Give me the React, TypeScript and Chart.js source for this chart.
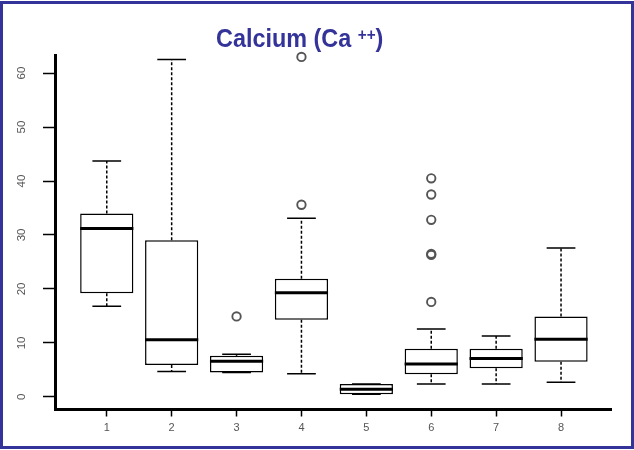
import React, { useEffect, useRef } from 'react';
import { Chart, registerables } from 'chart.js';

Chart.register(...registerables);

// ---- data ----
const categories = ['1', '2', '3', '4', '5', '6', '7', '8'];
const lowerWhisker = [16.8, 4.7, 4.5, 4.3, 0.5, 2.4, 2.4, 2.7];
const q1 = [19.2, 5.9, 4.5, 14.3, 0.5, 4.2, 5.3, 6.5];
const median = [31.2, 10.6, 6.6, 19.3, 1.4, 6.1, 7.1, 10.7];
const q3 = [34.0, 29.0, 7.6, 21.9, 2.4, 8.9, 8.9, 14.9];
const upperWhisker = [43.7, 62.5, 7.9, 33.1, 2.4, 12.6, 11.3, 27.6];
const outlierGroup = [3, 4, 4, 6, 6, 6, 6, 6, 6];
const outlierValue = [14.9, 63.0, 35.6, 40.5, 37.5, 32.8, 26.3, 26.5, 17.6];

const FONT = "'Liberation Sans', Arial, Helvetica, sans-serif";

export default function App() {
  const ref = useRef<HTMLCanvasElement | null>(null);

  useEffect(() => {
    if (!ref.current) return;

    const boxParts = {
      id: 'boxParts',
      afterDatasetsDraw(chart: any) {
        const { ctx } = chart;
        const xs = chart.scales.x;
        const ys = chart.scales.y;
        const bars = chart.getDatasetMeta(0).data;
        ctx.save();
        ctx.strokeStyle = '#000';
        for (let i = 0; i < categories.length; i++) {
          const cx = xs.getPixelForValue(i + 1);
          const bw = bars[i] ? bars[i].width : 50;
          const capHalf = bw * 0.27;
          const yQ1 = ys.getPixelForValue(q1[i]);
          const yQ3 = ys.getPixelForValue(q3[i]);
          const yLo = ys.getPixelForValue(lowerWhisker[i]);
          const yHi = ys.getPixelForValue(upperWhisker[i]);
          // dashed whiskers
          ctx.lineWidth = 1.5;
          ctx.setLineDash([3, 2]);
          ctx.beginPath();
          if (upperWhisker[i] > q3[i]) {
            ctx.moveTo(cx, yQ3);
            ctx.lineTo(cx, yHi);
          }
          if (lowerWhisker[i] < q1[i]) {
            ctx.moveTo(cx, yQ1);
            ctx.lineTo(cx, yLo);
          }
          ctx.stroke();
          // caps
          ctx.setLineDash([]);
          ctx.beginPath();
          ctx.moveTo(cx - capHalf, yHi);
          ctx.lineTo(cx + capHalf, yHi);
          ctx.moveTo(cx - capHalf, yLo);
          ctx.lineTo(cx + capHalf, yLo);
          ctx.stroke();
          // median
          const yM = ys.getPixelForValue(median[i]);
          ctx.lineWidth = 3;
          ctx.beginPath();
          ctx.moveTo(cx - bw / 2, yM);
          ctx.lineTo(cx + bw / 2, yM);
          ctx.stroke();
        }
        ctx.restore();
      },
    };

    const chart = new Chart(ref.current, {
      type: 'bar',
      data: {
        datasets: [
          {
            type: 'bar',
            data: categories.map((_, i) => ({ x: i + 1, y: [q1[i], q3[i]] })) as any,
            backgroundColor: '#fff',
            borderColor: '#000',
            borderWidth: 1.5,
            borderSkipped: false,
            barPercentage: 0.82,
            categoryPercentage: 1,
            order: 2,
          } as any,
          {
            type: 'scatter',
            data: outlierValue.map((v, i) => ({ x: outlierGroup[i], y: v })),
            pointStyle: 'circle',
            pointRadius: 4.2,
            pointBorderWidth: 1.9,
            borderColor: '#555',
            backgroundColor: 'rgba(255,255,255,0)',
            clip: false,
            order: 1,
          } as any,
        ],
      },
      options: {
        responsive: false,
        animation: false,
        events: [],
        layout: { padding: { left: 0, top: 55, right: 23, bottom: 0 } },
        plugins: {
          legend: { display: false },
          tooltip: { enabled: false },
          title: { display: false },
        },
        scales: {
          x: {
            type: 'linear',
            min: 0.21,
            max: 8.77,
            offset: false,
            grid: {
              display: true,
              offset: false,
              drawOnChartArea: false,
              drawTicks: true,
              tickLength: 7,
              tickWidth: 1.5,
              tickColor: '#000',
            },
            border: { display: true, width: 3, color: '#000' },
            ticks: {
              stepSize: 1,
              includeBounds: false,
              autoSkip: false,
              maxRotation: 0,
              minRotation: 0,
              padding: 5,
              color: '#555',
              font: { family: FONT, size: 11 },
              callback: (v: any) => categories[Number(v) - 1] ?? '',
            },
            afterFit: (s: any) => {
              s.height = 40.5;
            },
          } as any,
          y: {
            type: 'linear',
            min: -2.34,
            max: 63.35,
            grid: {
              display: true,
              drawOnChartArea: false,
              drawTicks: true,
              tickLength: 12.5,
              tickWidth: 1.5,
              tickColor: '#000',
            },
            border: { display: true, width: 3, color: '#000' },
            ticks: {
              stepSize: 10,
              includeBounds: false,
              minRotation: 90,
              maxRotation: 90,
              crossAlign: 'center',
              padding: 14.3,
              color: '#555',
              font: { family: FONT, size: 11.5 },
            },
            afterFit: (s: any) => {
              s.width = 55.5;
            },
          } as any,
        },
      },
      plugins: [boxParts],
    });

    return () => chart.destroy();
  }, []);

  return (
    <div style={{ position: 'fixed', left: 0, top: 0, width: 634, height: 450, background: '#fff' }}>
      <canvas ref={ref} width={634} height={450} style={{ display: 'block', width: 634, height: 450 }} />
      <div
        style={{
          position: 'absolute',
          left: 216,
          top: 24.7,
          fontFamily: "'Liberation Sans', Arial, sans-serif",
          fontWeight: 'bold',
          fontSize: 26,
          lineHeight: 1,
          color: '#33339a',
          whiteSpace: 'nowrap',
          transform: 'scaleX(0.9)',
          transformOrigin: 'left top',
        }}
      >
        Calcium (Ca <span style={{ fontSize: 17, verticalAlign: 7, lineHeight: 0 }}>++</span>)
      </div>
      <div
        style={{
          position: 'absolute',
          left: 0,
          top: 1,
          width: 634,
          height: 448,
          boxSizing: 'border-box',
          border: '3px solid #33339a',
          pointerEvents: 'none',
        }}
      />
    </div>
  );
}
